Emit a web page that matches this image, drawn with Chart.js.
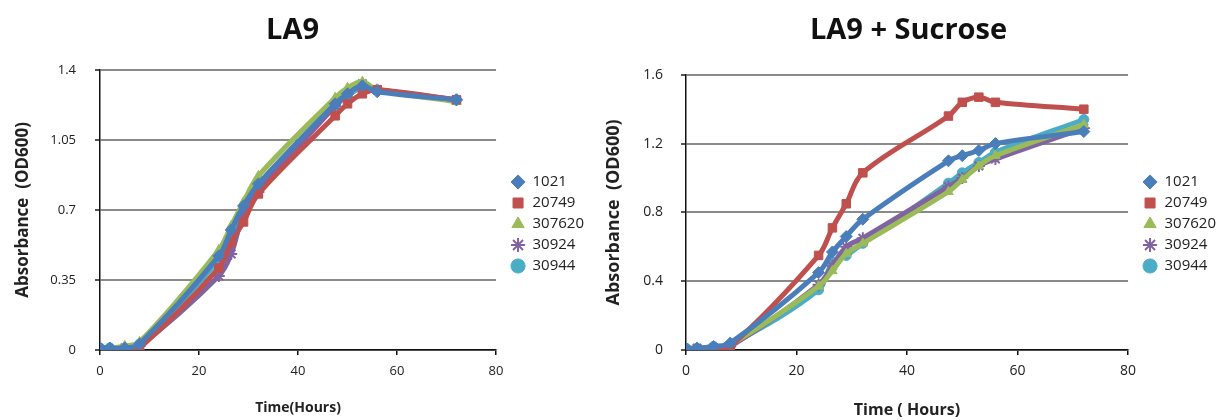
<!DOCTYPE html>
<html lang="en">
<head>
<meta charset="UTF-8">
<title>LA9 growth curves</title>
<style>
  body { margin: 0; background: #fff; }
  #wrap { position: relative; width: 1232px; height: 420px; }
  canvas { position: absolute; top: 0; }
  #la9 { left: 0; }
  #sucrose { left: 600px; }
</style>
</head>
<body>
<div id="wrap">
  <canvas id="la9" width="600" height="420"></canvas>
  <canvas id="sucrose" width="632" height="420"></canvas>
</div>
<script src="https://cdn.jsdelivr.net/npm/chart.js"></script>
<script>
// sampling times (hours)
const hours = [0, 2, 5, 8, 24, 26.5, 29, 32, 47.5, 50, 53, 56, 72];
const strains = ['1021', '20749', '307620', '30924', '30944'];

// LA9 medium
const la9_1021   = [0.01, 0.01, 0.01, 0.03, 0.47, 0.60, 0.72, 0.83, 1.23, 1.28, 1.32, 1.29, 1.25];
const la9_20749  = [0.00, 0.00, 0.00, 0.01, 0.41, 0.54, 0.64, 0.78, 1.17, 1.23, 1.28, 1.30, 1.25];
const la9_307620 = [0.01, 0.01, 0.02, 0.04, 0.50, 0.62, 0.74, 0.87, 1.26, 1.31, 1.34, 1.30, 1.24];
const la9_30924  = [0.00, 0.00, 0.01, 0.02, 0.37, 0.48, 0.68, 0.79, 1.22, 1.28, 1.33, 1.30, 1.25];
const la9_30944  = [0.01, 0.01, 0.01, 0.03, 0.45, 0.58, 0.71, 0.82, 1.22, 1.27, 1.31, 1.30, 1.25];

// LA9 + sucrose
const suc_1021   = [0.01, 0.01, 0.02, 0.04, 0.45, 0.57, 0.66, 0.76, 1.10, 1.13, 1.16, 1.20, 1.27];
const suc_20749  = [0.00, 0.00, 0.01, 0.02, 0.55, 0.71, 0.85, 1.03, 1.36, 1.44, 1.47, 1.44, 1.40];
const suc_307620 = [0.01, 0.01, 0.01, 0.03, 0.37, 0.46, 0.56, 0.62, 0.92, 0.99, 1.07, 1.13, 1.31];
const suc_30924  = [0.00, 0.01, 0.01, 0.02, 0.38, 0.49, 0.60, 0.65, 0.95, 1.00, 1.07, 1.11, 1.29];
const suc_30944  = [0.01, 0.01, 0.02, 0.03, 0.35, 0.51, 0.55, 0.62, 0.97, 1.03, 1.09, 1.15, 1.34];

const xTicks = [0, 20, 40, 60, 80];
const yTicksLa9 = [0, 0.35, 0.7, 1.05, 1.4];
const yTicksSuc = [0, 0.4, 0.8, 1.2, 1.6];

const colors = ['#4a7ebb', '#c0504d', '#9bbb59', '#8064a2', '#4bacc6'];
const markers = ['rectRot', 'rect', 'triangle', 'star', 'circle'];
const markerSize = [6, 6, 5.5, 6, 5];

// nudge the legend a little away from the plot, like the excel original
const legendShift = {
  id: 'legendShift',
  afterLayout(chart, args, opts) {
    chart.legend.left += opts.dx || 0;
  }
};

function makeChart(id, title, series, yTicks, lay) {
  const datasets = series.map((vals, i) => ({
    label: strains[i],
    data: hours.map((h, j) => ({ x: h, y: vals[j] })),
    borderColor: colors[i],
    backgroundColor: colors[i],
    borderWidth: 5,
    pointStyle: markers[i],
    pointRadius: markerSize[i],
    pointBorderWidth: markers[i] === 'star' ? 2 : 1,
    tension: 0.35,
    showLine: true
  }));

  return new Chart(document.getElementById(id), {
    type: 'scatter',
    data: { datasets },
    plugins: [legendShift],
    options: {
      responsive: false,
      animation: false,
      layout: { padding: { left: 0, right: lay.padRight, top: 0, bottom: 0 } },
      plugins: {
        legendShift: { dx: 9 },
        title: {
          display: true,
          text: title,
          color: '#111',
          font: { family: 'Open Sans', size: 29, weight: 'bold' },
          padding: { top: lay.titleTop, bottom: lay.titleBottom }
        },
        legend: {
          position: 'right',
          title: { display: true, text: '', font: { size: 10 }, padding: 8 },
          labels: {
            usePointStyle: true,
            boxWidth: 14,
            boxHeight: 10,
            padding: 6,
            color: '#222',
            font: { family: 'Open Sans', size: 15 }
          }
        },
        tooltip: { enabled: false }
      },
      scales: {
        x: {
          type: 'linear',
          min: 0,
          max: 80,
          afterBuildTicks: s => { s.ticks = xTicks.map(v => ({ value: v })); },
          afterFit: s => { s.height = 70; },
          ticks: { color: '#222', padding: 8, font: { family: 'Open Sans', size: lay.tickSize } },
          grid: { drawOnChartArea: false, drawTicks: true, tickLength: 5, tickColor: '#111', lineWidth: 1.5 },
          border: { color: '#111', width: 1.5 },
          title: {
            display: true,
            text: lay.xTitle,
            color: '#222',
            font: { family: 'Open Sans', size: lay.xTitleSize, weight: 'bold' },
            padding: { top: 0, bottom: lay.xTitleBottom }
          }
        },
        y: {
          min: 0,
          max: yTicks[yTicks.length - 1],
          afterBuildTicks: s => { s.ticks = yTicks.map(v => ({ value: v })); },
          afterFit: s => { s.width = lay.yWidth; },
          ticks: {
            color: '#222',
            padding: lay.yTickPad,
            font: { family: 'Open Sans', size: lay.tickSize },
            callback: v => String(v)
          },
          grid: { color: '#8a8a8a', lineWidth: 2, tickLength: 5, tickColor: '#555' },
          border: { color: '#111', width: 1.5 },
          title: {
            display: true,
            text: 'Absorbance  (OD600)',
            color: '#222',
            font: { family: 'Open Sans', size: lay.yTitleSize, weight: 'bold' },
            padding: { top: lay.yTitleTop, bottom: 0 }
          }
        }
      }
    }
  });
}

makeChart('la9', 'LA9',
  [la9_1021, la9_20749, la9_307620, la9_30924, la9_30944], yTicksLa9,
  { padRight: 15, titleTop: 13, titleBottom: 22, xTitle: 'Time(Hours)', xTitleSize: 14, xTitleBottom: 4,
    tickSize: 13, yWidth: 100, yTickPad: 19, yTitleSize: 17, yTitleTop: 13 });

makeChart('sucrose', 'LA9 + Sucrose',
  [suc_1021, suc_20749, suc_307620, suc_30924, suc_30944], yTicksSuc,
  { padRight: 15, titleTop: 13, titleBottom: 27, xTitle: 'Time ( Hours)', xTitleSize: 16, xTitleBottom: 0,
    tickSize: 14, yWidth: 86, yTickPad: 18, yTitleSize: 18, yTitleTop: 3 });
</script>
</body>
</html>
